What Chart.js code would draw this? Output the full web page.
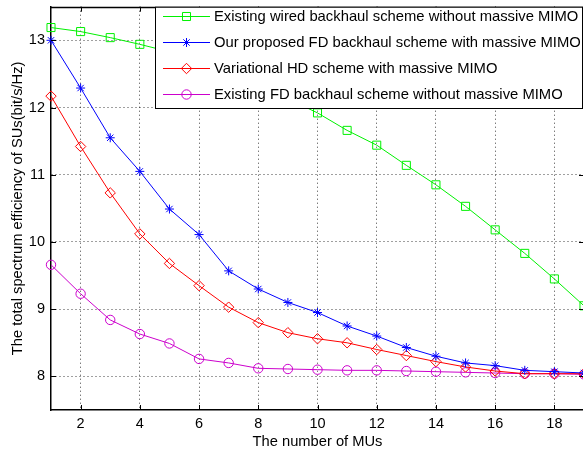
<!DOCTYPE html>
<html>
<head>
<meta charset="utf-8">
<script src="https://cdn.jsdelivr.net/npm/chart.js@4.4.1/dist/chart.umd.min.js"></script>
<style>
html, body { margin: 0; padding: 0; background: #fff; overflow: hidden; width: 583px; height: 455px; }
#wrap { position: absolute; left: 0; top: 0; width: 600px; height: 455px; }
canvas { display: block; }
</style>
</head>
<body>
<div id="wrap"><canvas id="c" width="600" height="455"></canvas></div>
<script>
// ---- data ----
const numMUs = [1, 2, 3, 4, 5, 6, 7, 8, 9, 10, 11, 12, 13, 14, 15, 16, 17, 18, 19];
const wiredNoMassiveMIMO = [13.19, 13.13, 13.04, 12.94, 12.83, 12.70, 12.53, 12.33, 12.13, 11.92, 11.66, 11.44, 11.14, 10.85, 10.53, 10.18, 9.83, 9.45, 9.05];
const proposedFDMassiveMIMO = [13.00, 12.29, 11.55, 11.05, 10.49, 10.11, 9.57, 9.30, 9.10, 8.95, 8.75, 8.60, 8.43, 8.30, 8.20, 8.16, 8.09, 8.07, 8.05];
const variationalHDMassiveMIMO = [12.17, 11.42, 10.73, 10.12, 9.68, 9.35, 9.03, 8.80, 8.65, 8.56, 8.50, 8.40, 8.31, 8.22, 8.14, 8.08, 8.04, 8.04, 8.04];
const existingFDNoMassiveMIMO = [9.66, 9.23, 8.84, 8.63, 8.49, 8.26, 8.20, 8.12, 8.11, 8.10, 8.09, 8.09, 8.08, 8.07, 8.06, 8.05, 8.04, 8.04, 8.03];
const seriesLabels = [
  'Existing wired backhaul scheme without massive MIMO',
  'Our proposed FD backhaul scheme with massive MIMO',
  'Variational HD scheme with massive MIMO',
  'Existing FD backhaul scheme without massive MIMO'
];
const xTickValues = [2, 4, 6, 8, 10, 12, 14, 16, 18];
const yTickValues = [8, 9, 10, 11, 12, 13];
const xTitle = 'The number of MUs';
const yTitle = 'The total spectrum efficiency of SUs(bit/s/Hz)';

Chart.defaults.font.family = '"Liberation Sans", Arial, Helvetica, sans-serif';
Chart.defaults.color = '#000';

function pts(arr) { return numMUs.map((x, i) => ({ x: x, y: arr[i] })); }

function ds(label, arr, color, style, radius) {
  return {
    label: label,
    data: pts(arr),
    borderColor: color,
    backgroundColor: color,
    borderWidth: 1,
    pointStyle: style,
    pointRadius: radius,
    pointHoverRadius: radius,
    pointBorderColor: color,
    pointBackgroundColor: 'rgba(0,0,0,0)',
    pointBorderWidth: 1,
    tension: 0,
    fill: false,
    clip: 10
  };
}

const datasets = [
  ds(seriesLabels[0], wiredNoMassiveMIMO, '#00f000', 'rect', 5.7),
  ds(seriesLabels[1], proposedFDMassiveMIMO, '#0000ff', 'star', 4.5),
  ds(seriesLabels[2], variationalHDMassiveMIMO, '#ff0000', 'rectRot', 5.2),
  ds(seriesLabels[3], existingFDNoMassiveMIMO, '#cc00cc', 'circle', 4.7)
];

const frameTicks = {
  id: 'frameTicks',
  afterDatasetsDraw(chart) {
    const { ctx, chartArea: a, scales } = chart;
    const x = scales.x, y = scales.y;
    ctx.save();
    ctx.strokeStyle = '#000';
    ctx.lineWidth = 1;
    ctx.beginPath();
    x.ticks.forEach(t => {
      const px = Math.round(x.getPixelForValue(t.value)) + 0.5;
      ctx.moveTo(px, a.bottom); ctx.lineTo(px, a.bottom - 5);
      ctx.moveTo(px, a.top); ctx.lineTo(px, a.top + 5);
    });
    y.ticks.forEach(t => {
      const py = Math.round(y.getPixelForValue(t.value)) + 0.5;
      ctx.moveTo(a.left, py); ctx.lineTo(a.left + 5, py);
      ctx.moveTo(a.right, py); ctx.lineTo(a.right - 5, py);
    });
    ctx.stroke();
    ctx.lineWidth = 1.5;
    ctx.beginPath();
    ctx.moveTo(a.left, a.top + 0.75); ctx.lineTo(a.right, a.top + 0.75);
    ctx.moveTo(a.right, a.top); ctx.lineTo(a.right, a.bottom);
    ctx.stroke();
    ctx.restore();
  }
};

const boxLegend = {
  id: 'boxLegend',
  afterDraw(chart) {
    const { ctx, chartArea: a } = chart;
    const left = 155.5, top = a.top + 0.5, right = a.right - 1.5, bottom = 108.5;
    ctx.save();
    ctx.fillStyle = '#fff';
    ctx.fillRect(left, top, right - left, bottom - top);
    ctx.strokeStyle = '#000';
    ctx.lineWidth = 1;
    ctx.strokeRect(left, top, right - left, bottom - top);
    ctx.font = '14.8px "Liberation Sans", Arial, sans-serif';
    ctx.textBaseline = 'middle';
    ctx.textAlign = 'left';
    chart.data.datasets.forEach((d, i) => {
      const yy = 16 + i * 26;
      ctx.strokeStyle = d.borderColor;
      ctx.lineWidth = 1;
      ctx.beginPath();
      ctx.moveTo(163, yy + 0.5); ctx.lineTo(210, yy + 0.5);
      ctx.stroke();
      ctx.strokeStyle = d.pointBorderColor;
      ctx.fillStyle = 'rgba(0,0,0,0)';
      Chart.helpers.drawPoint(ctx, { pointStyle: d.pointStyle, radius: d.pointRadius, borderWidth: 1, rotation: 0 }, 186.5, yy + 0.5);
      ctx.fillStyle = '#000';
      ctx.fillText(d.label, 214, yy + 1);
    });
    ctx.restore();
  }
};

new Chart(document.getElementById('c'), {
  type: 'line',
  data: { datasets: datasets },
  options: {
    responsive: false,
    animation: false,
    layout: { padding: { left: 0, top: 0, right: 16, bottom: 0 } },
    plugins: { legend: { display: false }, tooltip: { enabled: false } },
    scales: {
      x: {
        type: 'linear',
        min: 1,
        max: 19,
        afterBuildTicks: s => { s.ticks = xTickValues.map(v => ({ value: v })); },
        afterFit: s => { s.height = 45; s.paddingLeft = 0; s.paddingRight = 0; },
        ticks: { font: { size: 14.5 }, padding: 5, maxRotation: 0, autoSkip: false, color: '#000' },
        grid: { color: 'rgba(0,0,0,0.75)', drawTicks: false, tickLength: 0, lineWidth: 1 },
        border: { display: true, color: '#000', width: 1.5, dash: [1, 3] },
        title: { display: true, text: xTitle, font: { size: 14.7 }, color: '#000', padding: { top: 0, bottom: 4 } }
      },
      y: {
        type: 'linear',
        min: 7.5,
        max: 13.5,
        afterBuildTicks: s => { s.ticks = yTickValues.map(v => ({ value: v })); },
        afterFit: s => { s.width = 51; s.paddingTop = 0; s.paddingBottom = 0; },
        ticks: { font: { size: 14.5 }, padding: 6, color: '#000' },
        grid: { color: 'rgba(0,0,0,0.75)', drawTicks: false, tickLength: 0, lineWidth: 1 },
        border: { display: true, color: '#000', width: 1.5, dash: [1, 3] },
        title: { display: true, text: yTitle, font: { size: 14.7 }, color: '#000', padding: { top: 9, bottom: 0 } }
      }
    }
  },
  plugins: [frameTicks, boxLegend]
});
</script>
</body>
</html>
